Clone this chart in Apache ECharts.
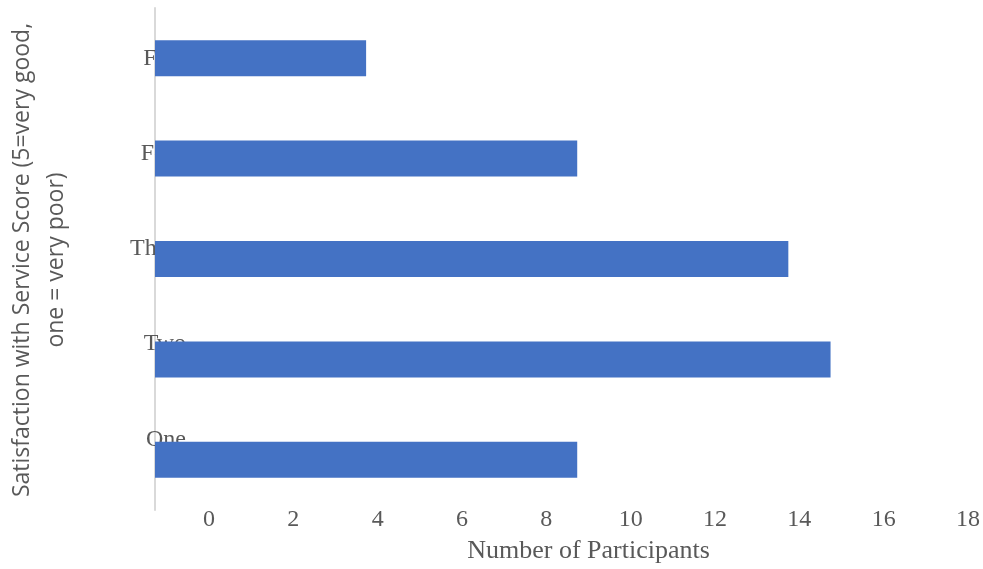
<!DOCTYPE html>
<html>
<head>
<meta charset="utf-8">
<script src="https://cdn.jsdelivr.net/npm/echarts@6/dist/echarts.min.js"></script>
<style>
    html, body { margin: 0; padding: 0; background: #fff; }
    #bar-chart { width: 983px; height: 569px; }
</style>
</head>
<body>
<div id="bar-chart"></div>
<script>
const categories = ['One', 'Two', 'Three', 'Four', 'Five'];
const participants = [10, 16, 15, 10, 5];
const xTicks = [0, 2, 4, 6, 8, 10, 12, 14, 16, 18];

const barChartFn = () => {
    let barChart = echarts.init(document.getElementById('bar-chart'));
    const serif = 'Liberation Serif';
    const barChartData = {
        animation: false,
        grid: [
            // bars
            { left: 155, top: 8, width: 760, height: 502 },
            // tick labels sit a bit to the right of the bars in the original
            { left: 209, top: 8, width: 760, height: 502 },
            // category labels (spaced a little tighter than the bars)
            { left: 155, top: 11, width: 760, height: 476 }
        ],
        xAxis: [
            { gridIndex: 0, type: 'value', min: 0, max: 18, show: false },
            {
                gridIndex: 1,
                type: 'value',
                min: xTicks[0],
                max: xTicks[xTicks.length - 1],
                interval: 2,
                axisLine: { show: false },
                axisTick: { show: false },
                splitLine: { show: false },
                axisLabel: {
                    color: '#595959',
                    fontFamily: serif,
                    fontSize: 24,
                    margin: -2
                },
                name: 'Number of Participants',
                nameLocation: 'middle',
                nameGap: 28,
                nameTextStyle: {
                    color: '#595959',
                    fontFamily: serif,
                    fontSize: 26
                }
            },
            { gridIndex: 2, type: 'value', min: 0, max: 18, show: false }
        ],
        yAxis: [
            {
                gridIndex: 0,
                type: 'category',
                data: categories,
                axisLine: { lineStyle: { color: '#d9d9d9', width: 2 } },
                axisTick: { show: false },
                axisLabel: { show: false }
            },
            { gridIndex: 1, type: 'category', data: categories, show: false },
            {
                gridIndex: 2,
                type: 'category',
                data: categories,
                z: 0,
                axisLine: { show: false },
                axisTick: { show: false },
                axisLabel: {
                    color: '#595959',
                    fontFamily: serif,
                    fontSize: 24,
                    align: 'right',
                    margin: -31
                }
            }
        ],
        graphic: [
            {
                type: 'text',
                x: 39,
                y: 260,
                rotation: Math.PI / 2,
                style: {
                    text: 'Satisfaction with Service Score (5=very good,\none = very poor)',
                    fill: '#595959',
                    font: '23px "Open Sans"',
                    lineHeight: 34,
                    align: 'center',
                    verticalAlign: 'middle'
                }
            }
        ],
        series: [
            {
                name: 'Participants',
                type: 'bar',
                xAxisIndex: 0,
                yAxisIndex: 0,
                z: 5,
                barWidth: 36,
                itemStyle: { color: '#4472c4' },
                data: participants
            }
        ]
    };
    barChart.setOption(barChartData);
    return barChart;
};

barChartFn();
</script>
</body>
</html>
